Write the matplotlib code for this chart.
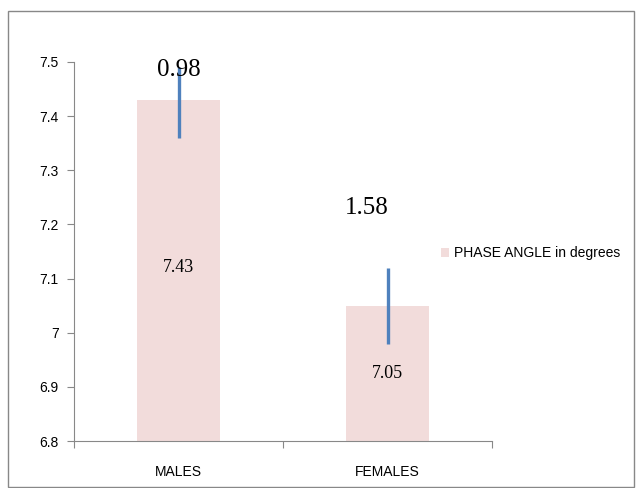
import matplotlib
matplotlib.use("Agg")
import matplotlib.pyplot as plt
from matplotlib.patches import Rectangle

categories = ["MALES", "FEMALES"]
means = [7.43, 7.05]
err_low = [0.07, 0.07]
err_high = [0.06, 0.07]
sd_labels = ["0.98", "1.58"]
sd_pos = [(0.0, 7.485), (-0.1, 7.23)]
mean_pos = [(0.0, 7.12), (0.0, 6.925)]
yticks = [6.8, 6.9, 7.0, 7.1, 7.2, 7.3, 7.4, 7.5]
ytick_labels = ["6.8", "6.9", "7", "7.1", "7.2", "7.3", "7.4", "7.5"]

fig = plt.figure(figsize=(6.36, 4.88), dpi=100)
ax = fig.add_axes([0.1164, 0.0963, 0.6572, 0.7767])

x = list(range(len(categories)))
ax.bar(x, [m - 6.8 for m in means], bottom=6.8, width=0.4, color="#F2DCDB",
       label="PHASE ANGLE in degrees", zorder=2)
ax.errorbar(x, means, yerr=[err_low, err_high], fmt="none", ecolor="#4F81BD",
            elinewidth=2.4, capsize=0, zorder=3)

for i, t in enumerate(sd_labels):
    ax.text(x[i] + sd_pos[i][0], sd_pos[i][1], t, ha="center", va="center",
            fontsize=18, family="Liberation Serif", zorder=4)
for i, m in enumerate(means):
    ax.text(x[i] + mean_pos[i][0], mean_pos[i][1], "%.2f" % m, ha="center", va="center",
            fontsize=13, family="Liberation Serif", zorder=4)

ax.set_xlim(-0.5, 1.5)
ax.set_ylim(6.8, 7.5)
ax.set_yticks(yticks)
ax.set_yticklabels(ytick_labels, family="Liberation Sans", fontsize=10)
ax.set_xticks([-0.5, 0.5, 1.5])
ax.set_xticklabels([])
ax.set_xticks(x, minor=True)
ax.set_xticklabels(categories, minor=True, family="Liberation Sans", fontsize=10)
ax.tick_params(axis="x", which="minor", length=0, pad=17)
ax.tick_params(axis="x", which="major", length=5, color="#888888", direction="out")
ax.tick_params(axis="y", length=5, color="#888888", direction="out", pad=6)

for s in ["top", "right"]:
    ax.spines[s].set_visible(False)
for s in ["left", "bottom"]:
    ax.spines[s].set_color("#888888")

fig.legend(*ax.get_legend_handles_labels(), loc="center left",
           bbox_to_anchor=(441 / 636, 1 - 253 / 488), frameon=False, borderpad=0,
           borderaxespad=0, prop={"family": "Liberation Sans", "size": 10},
           handlelength=0.6, handleheight=0.6, handletextpad=0.35)

fig.patches.append(Rectangle((8 / 636, 1 / 488), 626 / 636, 476 / 488,
                             transform=fig.transFigure, fill=False,
                             edgecolor="#888888", linewidth=1))

fig.savefig("out.png", dpi=100)
